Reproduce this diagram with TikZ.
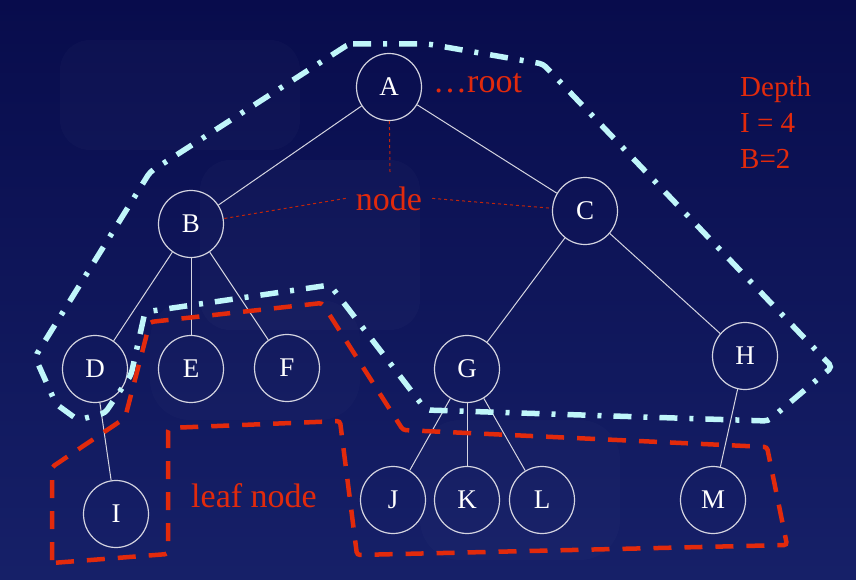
\documentclass[tikz,border=0pt]{standalone}
\usepackage{fontspec}
\setmainfont{Liberation Serif}
\usetikzlibrary{shapes.geometric}
\definecolor{bgtop}{RGB}{8,12,76}
\definecolor{bgbot}{RGB}{22,32,104}
\definecolor{lbl}{RGB}{226,42,12}
\definecolor{cyanl}{RGB}{192,246,250}
\definecolor{edgec}{RGB}{212,212,224}
\begin{document}
\begin{tikzpicture}[x=1pt,y=-1pt,
  tnode/.style={draw=edgec, line width=1.2pt, ellipse, minimum width=65pt, minimum height=67pt, inner sep=0pt, text=white, font=\fontsize{27}{27}\selectfont},
  tedge/.style={draw=edgec, line width=1pt},
  lbltext/.style={text=lbl, font=\fontsize{34}{34}\selectfont, inner sep=0pt},
  deptext/.style={text=lbl, font=\fontsize{29}{29}\selectfont, inner sep=0pt, anchor=base west},
  ptr/.style={draw=lbl!85!black, line width=1pt, dash pattern=on 3pt off 3pt},
  cyanpath/.style={draw=cyanl, line width=5.5pt, dash pattern=on 18pt off 12pt on 4pt off 12pt, rounded corners=4pt},
  redpath/.style={draw=lbl, line width=4.5pt, dash pattern=on 18pt off 13pt, rounded corners=3pt}]
\fill[top color=bgtop, bottom color=bgbot] (0,0) rectangle (856,580);
\useasboundingbox (0,0) rectangle (856,580);
% faint background texture
\fill[white, opacity=0.018, rounded corners=30pt] (60,40) rectangle (300,150);
\fill[white, opacity=0.018, rounded corners=30pt] (200,160) rectangle (420,330);
\fill[white, opacity=0.015, rounded corners=40pt] (150,300) rectangle (360,420);
\fill[white, opacity=0.015, rounded corners=40pt] (420,420) rectangle (620,560);

% nodes
\node[tnode] (A) at (389,87) {A};
\node[tnode] (B) at (191,224) {B};
\node[tnode] (C) at (585,211) {C};
\node[tnode] (D) at (95,369) {D};
\node[tnode] (E) at (191,369) {E};
\node[tnode] (F) at (287,368) {F};
\node[tnode] (G) at (467,369) {G};
\node[tnode] (H) at (745,356) {H};
\node[tnode] (I) at (116,514) {I};
\node[tnode] (J) at (393,500) {J};
\node[tnode] (K) at (467,500) {K};
\node[tnode] (L) at (542,500) {L};
\node[tnode] (M) at (713,500) {M};

% edges
\draw[tedge] (A) -- (B);
\draw[tedge] (A) -- (C);
\draw[tedge] (B) -- (D);
\draw[tedge] (B) -- (E);
\draw[tedge] (B) -- (F);
\draw[tedge] (C) -- (G);
\draw[tedge] (C) -- (H);
\draw[tedge] (D) -- (I);
\draw[tedge] (G) -- (J);
\draw[tedge] (G) -- (K);
\draw[tedge] (G) -- (L);
\draw[tedge] (H) -- (M);

% labels
\node[lbltext, anchor=base west] (rootlbl) at (433,93) {…root};
\node[lbltext, anchor=base, inner xsep=10pt] (nodelbl) at (389,210) {node};
\node[lbltext, anchor=base] (leaflbl) at (254,507) {leaf node};
\node[deptext] (dep1) at (740,97) {Depth};
\node[deptext] (dep2) at (740,133) {I = 4};
\node[deptext] (dep3) at (740,168) {B=2};

\coordinate (nodetop) at (390,172);
\draw[ptr] (A) -- (nodetop);
\draw[ptr] (nodelbl.west) -- (B);
\draw[ptr] (nodelbl.east) -- (C);

% cyan dash-dot outline
\draw[cyanpath] (349,44) -- (428,44) -- (543,64) -- (832,367) -- (768,421) -- (426,410) -- (330,285) -- (145,312) -- (131,375) -- (105,413) -- (78,420) -- (56,404) -- (35,357) -- (150,172) -- cycle;

% red dashed outline
\draw[redpath] (52,563) -- (52,467) -- (125,418) -- (150,322) -- (322,303) -- (403,430) -- (767,447) -- (787,545) -- (357,555) -- (340,421) -- (168,428) -- (168,554) -- cycle;
\end{tikzpicture}
\end{document}
